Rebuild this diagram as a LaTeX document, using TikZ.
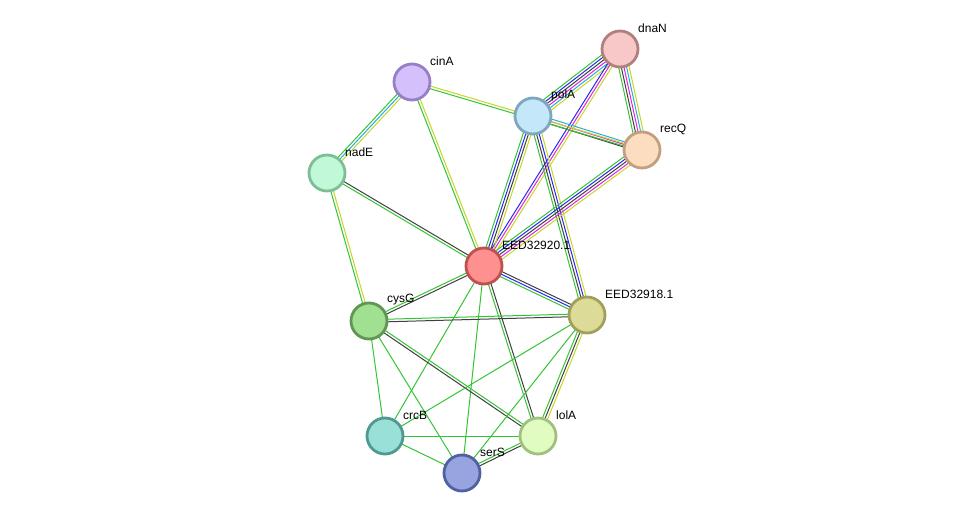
\documentclass[tikz,border=0pt]{standalone}
\usepackage{fontspec}
\setmainfont{Liberation Sans}
\usetikzlibrary{calc,backgrounds}

% evidence channel colours
\definecolor{evgreen}{RGB}{52,196,52}
\definecolor{evblue}{RGB}{40,40,236}
\definecolor{evblack}{RGB}{64,64,64}
\definecolor{evpink}{RGB}{222,36,222}
\definecolor{evcyan}{RGB}{36,176,216}
\definecolor{evyellow}{RGB}{196,214,40}

% protein fills and borders
\definecolor{dnaNfill}{RGB}{248,200,200}   \definecolor{dnaNline}{RGB}{176,128,128}
\definecolor{cinAfill}{RGB}{212,192,250}   \definecolor{cinAline}{RGB}{150,126,200}
\definecolor{polAfill}{RGB}{196,232,250}   \definecolor{polAline}{RGB}{126,166,190}
\definecolor{recQfill}{RGB}{253,221,191}   \definecolor{recQline}{RGB}{192,160,128}
\definecolor{nadEfill}{RGB}{192,248,216}   \definecolor{nadEline}{RGB}{126,190,150}
\definecolor{eedAfill}{RGB}{255,144,144}   \definecolor{eedAline}{RGB}{190,80,80}
\definecolor{cysGfill}{RGB}{160,224,144}   \definecolor{cysGline}{RGB}{96,150,84}
\definecolor{eedBfill}{RGB}{220,220,152}   \definecolor{eedBline}{RGB}{160,160,90}
\definecolor{crcBfill}{RGB}{152,224,216}   \definecolor{crcBline}{RGB}{80,152,144}
\definecolor{lolAfill}{RGB}{224,252,192}   \definecolor{lolAline}{RGB}{160,192,128}
\definecolor{serSfill}{RGB}{152,164,224}   \definecolor{serSline}{RGB}{80,96,160}

\tikzset{
  prot/.style={circle, minimum size=36pt, inner sep=0pt, line width=2.8pt},
  lbl/.style={anchor=west, inner sep=0pt, font=\fontsize{12}{14}\selectfont},
}

% one protein: name, x, y, colour prefix, label
\newcommand\prot[5]{%
  \node[prot, fill=#4fill, draw=#4line] (#1) at (#2,#3) {};
  \node[lbl] (#1-l) at ($(#1)+(18,21)$) {#5};
}

% parallel coloured lines between two proteins
\newcommand\link[3]{%
  \foreach \c [count=\k] in {#3} {\xdef\nlines{\k}}
  \foreach \c [count=\k] in {#3} {
    \pgfmathsetmacro\off{(\k-(\nlines+1)/2)*2.6}
    \draw[\c, line width=1pt] ($(#1)!\off pt!90:(#2)$) -- ($(#2)!\off pt!-90:(#1)$);
  }%
}

\begin{document}
\begin{tikzpicture}[x=1pt, y=1pt]
  \useasboundingbox (0,0) rectangle (975,-519);

  % proteins
  \prot{dnaN}{620}{-49}{dnaN}{dnaN}
  \prot{cinA}{412}{-82}{cinA}{cinA}
  \prot{polA}{533}{-116}{polA}{polA}
  \prot{recQ}{642}{-150}{recQ}{recQ}
  \prot{nadE}{327}{-173}{nadE}{nadE}
  \prot{eed920}{484}{-266}{eedA}{EED32920.1}
  \prot{cysG}{369}{-321}{cysG}{cysG}
  \prot{eed918}{587}{-315}{eedB}{EED32918.1}
  \prot{crcB}{385}{-436}{crcB}{crcB}
  \prot{lolA}{538}{-436}{lolA}{lolA}
  \prot{serS}{462}{-473}{serS}{serS}

  % interactions
  \begin{scope}[on background layer]
    \link{dnaN}{polA}{evgreen,evblue,evblack,evpink,evcyan,evyellow}
    \link{dnaN}{recQ}{evgreen,evblack,evpink,evcyan,evyellow}
    \link{dnaN}{eed920}{evblue,evpink,evyellow}
    \link{polA}{recQ}{evblack,evpink,evcyan}
    \link{cinA}{recQ}{evgreen,evyellow}
    \link{cinA}{nadE}{evgreen,evcyan,evyellow}
    \link{cinA}{eed920}{evgreen,evyellow}
    \link{nadE}{eed920}{evgreen,evblack}
    \link{nadE}{cysG}{evgreen,evyellow}
    \link{polA}{eed920}{evgreen,evblue,evblack,evyellow}
    \link{polA}{eed918}{evgreen,evblack,evblue,evyellow}
    \link{recQ}{eed920}{evgreen,evblue,evblack,evpink,evyellow}
    \link{eed920}{eed918}{evgreen,evblue,evblack}
    \link{eed920}{cysG}{evgreen,evblack}
    \link{eed920}{lolA}{evgreen,evblack}
    \link{eed920}{crcB}{evgreen}
    \link{eed920}{serS}{evgreen}
    \link{cysG}{eed918}{evblack,evgreen}
    \link{cysG}{lolA}{evblack,evgreen}
    \link{cysG}{crcB}{evgreen}
    \link{cysG}{serS}{evgreen}
    \link{eed918}{lolA}{evgreen,evblack,evyellow}
    \link{eed918}{crcB}{evgreen}
    \link{eed918}{serS}{evgreen}
    \link{crcB}{lolA}{evgreen}
    \link{crcB}{serS}{evgreen}
    \link{serS}{lolA}{evblack,evgreen}
  \end{scope}
\end{tikzpicture}
\end{document}
